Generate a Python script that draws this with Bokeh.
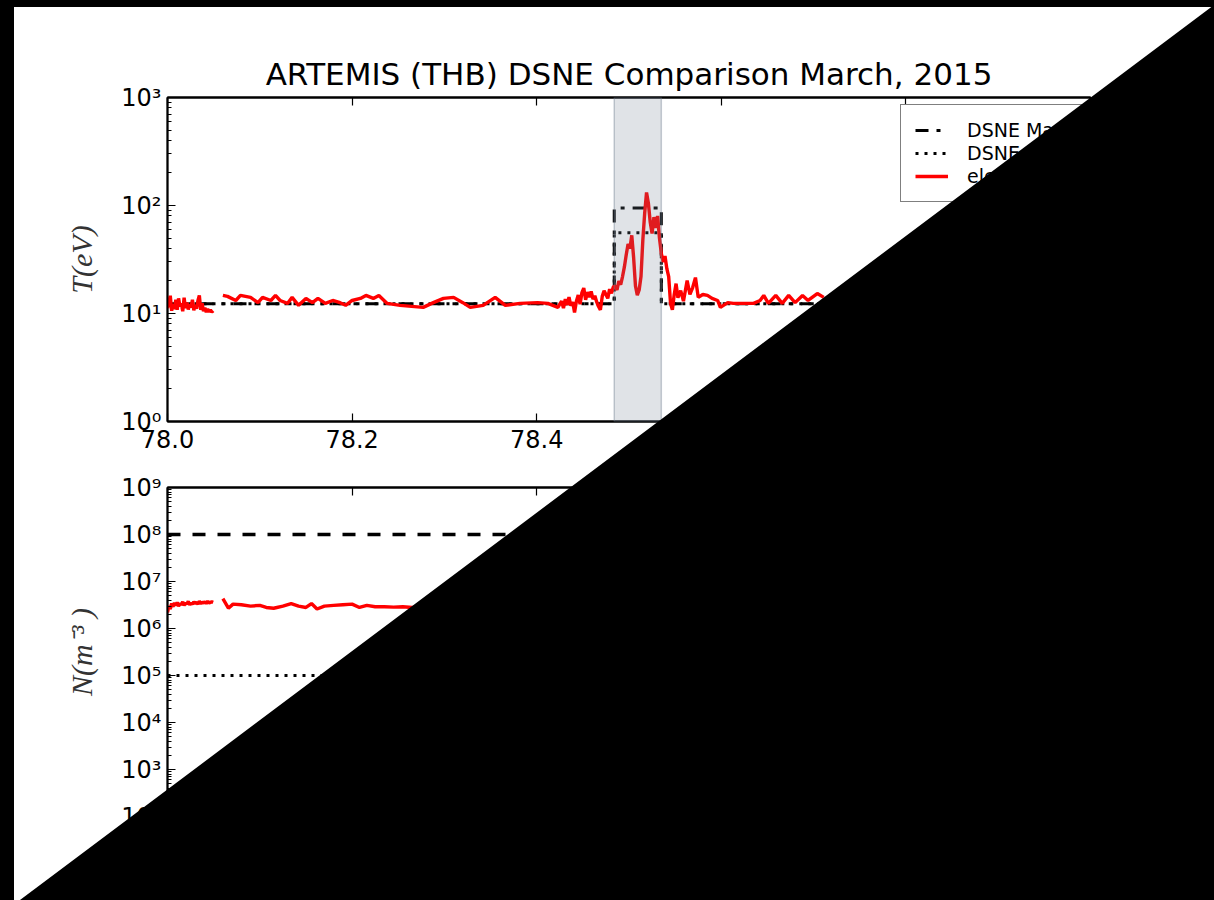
from bokeh.plotting import figure
from bokeh.models import (Range1d, FixedTicker, PrintfTickFormatter, CustomJSTickFormatter,
                          LinearAxis, LogAxis, BoxAnnotation, Legend, LegendItem, Div)
from bokeh.layouts import column
from bokeh.embed import file_html
from bokeh.resources import INLINE

NAN = float("nan")

TITLE = "ARTEMIS (THB) DSNE Comparison March, 2015"
T_LABEL = "T(eV)"
N_LABEL = "N(m\u207b\u00b3 )"
LEGEND_LABELS = ["DSNE Max", "DSNE Min", "electrons"]

x_ticks = [78.0, 78.2, 78.4, 78.6, 78.8, 79.0]
x_start, x_end = 78.0, 79.0
t_decades = [1, 10, 100, 1000]
n_decades = [1e2, 1e3, 1e4, 1e5, 1e6, 1e7, 1e8, 1e9]

event_start, event_end = 78.484, 78.535

# ---- electron temperature (eV) ----
t_x = [78.000, 78.0015, 78.003, 78.0045, 78.006, 78.0075, 78.009, 78.0105, 78.012, 78.0135,
       78.015, 78.0165, 78.018, 78.0195, 78.021, 78.0225, 78.024, 78.0255, 78.027, 78.0285,
       78.030, 78.0315, 78.033, 78.0345, 78.036, 78.0375, 78.039, 78.0405, 78.042, 78.0435,
       78.045, 78.0465, 78.048, 78.0495,
       NAN,
       78.060, 78.065, 78.074, 78.079, 78.090, 78.098, 78.103, 78.112, 78.117, 78.122,
       78.130, 78.135, 78.142, 78.150, 78.157, 78.163, 78.171, 78.179, 78.187, 78.193,
       78.200, 78.209, 78.215, 78.223, 78.229, 78.238, 78.252, 78.277, 78.288, 78.299,
       78.310, 78.320, 78.328, 78.342, 78.355, 78.366, 78.382, 78.401, 78.412, 78.423,
       78.425, 78.427, 78.429, 78.431, 78.433, 78.435, 78.437, 78.439, 78.441, 78.443,
       78.445, 78.447, 78.449, 78.451, 78.453, 78.455, 78.457, 78.459, 78.461, 78.463,
       78.465, 78.467, 78.469, 78.471, 78.473, 78.475, 78.477, 78.479, 78.481, 78.483,
       78.485, 78.487, 78.489, 78.491, 78.493, 78.495, 78.497, 78.499, 78.501, 78.503,
       78.505, 78.507, 78.509, 78.511, 78.513, 78.515, 78.517, 78.519, 78.521, 78.523,
       78.525, 78.527, 78.529, 78.531, 78.533, 78.535, 78.537, 78.539, 78.541, 78.543,
       78.545, 78.547, 78.549, 78.551, 78.553, 78.556, 78.559, 78.563, 78.566, 78.569,
       78.572, 78.575, 78.580, 78.585, 78.590, 78.596, 78.599, 78.607, 78.613, 78.621,
       78.635, 78.642, 78.646, 78.651, 78.659, 78.666, 78.673, 78.680, 78.688, 78.694,
       78.704, 78.711]
t_e = [11.2, 12.8, 14.6, 10.6, 12.2, 11.0, 13.4, 10.8, 13.8, 11.6,
       12.4, 10.5, 14.0, 11.2, 12.6, 10.9, 12.2, 11.4, 13.4, 10.7,
       12.0, 11.1, 13.2, 14.7, 10.8, 12.4, 10.5, 11.3, 10.3, 11.0,
       10.4, 10.8, 10.3, 10.6,
       NAN,
       14.7, 14.4, 13.2, 14.7, 14.1, 12.6, 14.1, 13.2, 14.7, 13.2,
       12.4, 14.1, 11.9, 13.8, 12.6, 13.8, 12.4, 13.2, 12.6, 11.9,
       13.2, 13.8, 14.7, 13.8, 14.7, 12.4, 11.9, 11.4, 12.6, 13.8,
       14.1, 12.6, 11.4, 11.9, 14.1, 11.9, 12.4, 12.6, 12.4, 11.4,
       12.2, 13.0, 11.2, 13.6, 12.0, 14.2, 11.8, 12.8, 10.2, 13.0,
       14.8, 12.2, 15.6, 17.2, 13.4, 15.8, 14.2, 16.0, 13.6, 14.6,
       12.8, 11.6, 10.8, 14.4, 16.2, 15.0, 13.8, 16.8, 15.4, 17.6,
       18.0, 16.5, 20.0, 18.5, 22.0, 27.0, 35.0, 44.0, 40.0, 53.0,
       33.0, 18.0, 14.8, 16.5, 22.0, 48.0, 85.0, 132.0, 105.0, 70.0,
       55.0, 78.0, 62.0, 80.0, 50.0, 36.0, 30.0, 34.0, 26.0, 22.0,
       12.4, 10.8, 15.0, 18.9, 14.0, 16.3, 13.0, 20.2, 15.0, 17.4,
       21.5, 14.1, 15.0, 14.7, 13.8, 13.2, 11.4, 12.6, 12.4, 12.4,
       12.4, 13.2, 14.7, 12.4, 14.7, 12.4, 14.7, 12.6, 14.7, 13.2,
       15.3, 14.1]

# DSNE model temperature bounds (step)
dsne_t_x = [78.0, 78.484, 78.535, 79.0]
dsne_t_max = [12.3, 95.0, 12.3, 12.3]
dsne_t_min = [12.3, 56.0, 12.3, 12.3]

# ---- electron density (m^-3) ----
n_x = [78.000, 78.0015, 78.003, 78.0045, 78.006, 78.0075, 78.009, 78.0105, 78.012, 78.0135,
       78.015, 78.0165, 78.018, 78.0195, 78.021, 78.0225, 78.024, 78.0255, 78.027, 78.0285,
       78.030, 78.0315, 78.033, 78.0345, 78.036, 78.0375, 78.039, 78.0405, 78.042, 78.0435,
       78.045, 78.0465, 78.048, 78.0495,
       NAN,
       78.060, 78.066, 78.071, 78.080, 78.090, 78.100, 78.107, 78.115, 78.125, 78.134,
       78.142, 78.150, 78.156, 78.162, 78.170, 78.180, 78.190, 78.200, 78.208, 78.216,
       78.225, 78.235, 78.245, 78.255, 78.265, 78.275]
n_e = [2.2e6, 3.0e6, 2.6e6, 3.4e6, 2.9e6, 3.5e6, 3.1e6, 3.6e6, 3.0e6, 3.4e6,
       3.2e6, 3.7e6, 3.1e6, 3.5e6, 3.3e6, 3.8e6, 3.2e6, 3.5e6, 3.3e6, 3.7e6,
       3.4e6, 3.6e6, 3.3e6, 3.8e6, 3.4e6, 3.6e6, 3.5e6, 3.7e6, 3.4e6, 3.8e6,
       3.5e6, 3.6e6, 3.7e6, 3.6e6,
       NAN,
       4.3e6, 2.7e6, 3.3e6, 3.2e6, 3.0e6, 3.1e6, 2.8e6, 2.7e6, 3.0e6, 3.4e6,
       3.0e6, 2.8e6, 3.4e6, 2.6e6, 3.0e6, 3.1e6, 3.2e6, 3.3e6, 2.8e6, 3.1e6,
       2.9e6, 2.9e6, 2.85e6, 2.9e6, 2.8e6, 2.9e6]

dsne_n_x = [78.0, 79.0]
dsne_n_max = [1e8, 1e8]
dsne_n_min = [1e5, 1e5]

# ---------------- layout constants ----------------
W = 1214
H_TOP, H_BOT = 457, 443
FONT = "DejaVu Sans"

SUP = CustomJSTickFormatter(code="""
const sup = {"0":"\u2070","1":"\u00b9","2":"\u00b2","3":"\u00b3","4":"\u2074","5":"\u2075",
             "6":"\u2076","7":"\u2077","8":"\u2078","9":"\u2079","-":"\u207b"};
const e = Math.round(Math.log10(tick));
return "10" + String(e).split("").map(c => sup[c]).join("");
""")
BLANK = CustomJSTickFormatter(code="return '';")


def minor_list(decades):
    out = []
    for d in decades[:-1]:
        out += [d * k for k in range(2, 10)]
    return out


def style_axis(ax, label_size="24px"):
    ax.major_tick_in = 8
    ax.major_tick_out = 0
    ax.minor_tick_in = 4
    ax.minor_tick_out = 0
    ax.major_tick_line_color = "black"
    ax.minor_tick_line_color = "black"
    ax.major_tick_line_width = 1.2
    ax.minor_tick_line_width = 1
    ax.axis_line_color = "black"
    ax.axis_line_width = 1.8
    ax.major_label_text_font = FONT
    ax.major_label_text_font_size = label_size
    ax.major_label_text_color = "black"


def make_fig(height, decades, ylabel, b_top, b_bot, title=None):
    p = figure(width=W, height=height, x_range=Range1d(x_start, x_end),
               y_range=Range1d(decades[0], decades[-1]), y_axis_type="log",
               output_backend="svg", toolbar_location=None,
               min_border_left=167, min_border_right=124,
               min_border_top=b_top, min_border_bottom=b_bot,
               background_fill_color="white", border_fill_color="white",
               title=title)
    p.xgrid.visible = False
    p.ygrid.visible = False
    p.outline_line_color = "black"
    p.outline_line_width = 1.8

    yt = FixedTicker(ticks=decades, minor_ticks=minor_list(decades))
    xt = FixedTicker(ticks=x_ticks, minor_ticks=[])

    xa = p.xaxis[0]
    xa.ticker = xt
    xa.formatter = PrintfTickFormatter(format="%.1f")
    style_axis(xa)
    xa.major_label_standoff = 8

    ya = p.yaxis[0]
    ya.ticker = yt
    ya.formatter = SUP
    style_axis(ya)
    ya.major_label_standoff = 6
    ya.axis_label = ylabel
    ya.axis_label_text_font = "Liberation Serif"
    ya.axis_label_text_font_style = "italic"
    ya.axis_label_text_font_size = "30px"
    ya.axis_label_text_color = "#333333"
    ya.axis_label_standoff = 20

    ra = LogAxis(ticker=yt, formatter=BLANK)
    style_axis(ra, "0px")
    ra.major_label_standoff = 0
    p.add_layout(ra, "right")

    ta = LinearAxis(ticker=xt, formatter=BLANK)
    style_axis(ta, "0px")
    ta.major_label_standoff = 0
    p.add_layout(ta, "above")
    return p


# ---------------- top panel: temperature ----------------
p1 = make_fig(H_TOP, t_decades, T_LABEL, 97, 36, title=TITLE)
p1.title.text_font = FONT
p1.title.text_font_size = "31px"
p1.title.text_font_style = "normal"
p1.title.align = "center"
p1.title.text_color = "black"
p1.title.standoff = 12

r_max = p1.step(dsne_t_x, dsne_t_max, mode="after", line_color="black", line_width=3,
                line_dash="13 8 4 8")
r_min = p1.step(dsne_t_x, dsne_t_min, mode="after", line_color="black", line_width=3,
                line_dash="3 6")
r_el = p1.line(t_x, t_e, line_color="#ff0000", line_width=3.4)

p1.add_layout(BoxAnnotation(left=event_start, right=event_end, fill_color="#708090",
                            fill_alpha=0.22, line_color="#708090", line_alpha=0.4,
                            line_width=1.5))

legend = Legend(items=[LegendItem(label=LEGEND_LABELS[0], renderers=[r_max]),
                       LegendItem(label=LEGEND_LABELS[1], renderers=[r_min]),
                       LegendItem(label=LEGEND_LABELS[2], renderers=[r_el])],
                location=(733, 219))
legend.label_text_font = FONT
legend.label_text_font_size = "19px"
legend.label_text_color = "black"
legend.glyph_width = 33
legend.glyph_height = 22
legend.label_height = 22
legend.label_width = 100
legend.label_standoff = 19
legend.spacing = 1
legend.padding = 14
legend.border_line_color = "black"
legend.border_line_width = 1.8
legend.background_fill_color = "white"
legend.background_fill_alpha = 1
p1.add_layout(legend)

# ---------------- bottom panel: density ----------------
p2 = make_fig(H_BOT, n_decades, N_LABEL, 30, 84)
p2.line(dsne_n_x, dsne_n_max, line_color="black", line_width=3.5, line_dash="13 12")
p2.line(dsne_n_x, dsne_n_min, line_color="black", line_width=3, line_dash="3 6")
p2.line(n_x, n_e, line_color="#ff0000", line_width=3.4)
p2.add_layout(BoxAnnotation(left=event_start, right=event_end, fill_color="#708090",
                            fill_alpha=0.22, line_color="#708090", line_alpha=0.4,
                            line_width=1.5))

# ------- black page frame and occluding wedge, as in the reference picture -------
MASK = (
    '<svg xmlns="http://www.w3.org/2000/svg" width="1214" height="900" '
    'style="position:fixed;left:0;top:0;pointer-events:none;z-index:1000">'
    '<path fill="black" d="M0 0 H1214 V7 H0 Z M0 0 H14 V900 H0 Z '
    'M1214 5 L1214 900 L20 900 Z"/></svg>'
)
overlay = Div(text=MASK, width=0, height=0)

layout = column(p1, p2, overlay, spacing=0)
with open("out.html", "w", encoding="utf-8") as f:
    f.write(file_html(layout, INLINE))
